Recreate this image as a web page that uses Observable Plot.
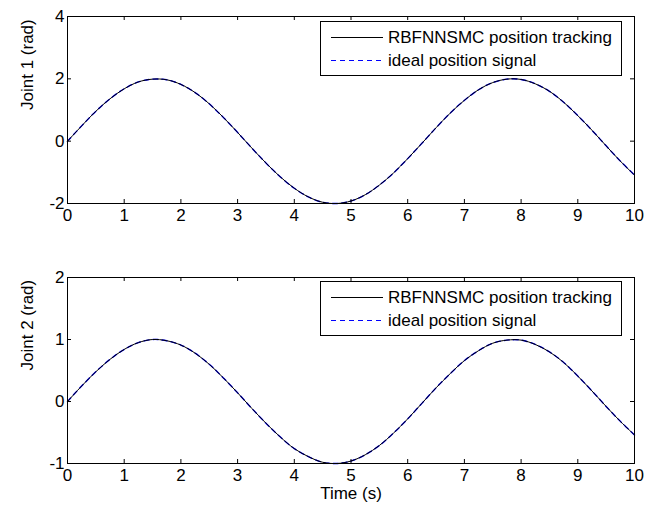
<!DOCTYPE html>
<html>
<head>
<meta charset="utf-8">
<script src="https://cdn.jsdelivr.net/npm/d3@7"></script>
<script src="https://cdn.jsdelivr.net/npm/@observablehq/plot@0.6"></script>
<style>
  body { margin: 0; background: #fff; }
  #wrap { position: relative; width: 660px; height: 511px; font-family: Arial, "Liberation Sans", Helvetica, sans-serif; }
  #wrap svg { display: block; }
  .legend { position: absolute; left: 320px; }
</style>
</head>
<body>
<div id="wrap"></div>
<script>
// Time samples (s)
const time = [0, 0.25, 0.5, 0.75, 1, 1.25, 1.5, 1.75, 2, 2.25, 2.5, 2.75, 3, 3.25, 3.5, 3.75, 4, 4.25, 4.5, 4.75,
  5, 5.25, 5.5, 5.75, 6, 6.25, 6.5, 6.75, 7, 7.25, 7.5, 7.75, 8, 8.25, 8.5, 8.75, 9, 9.25, 9.5, 9.75, 10];

// Joint 1 (rad)
const joint1Tracking = [0, 0.49, 0.96, 1.36, 1.68, 1.90, 1.99, 1.97, 1.82, 1.56, 1.20, 0.76, 0.28, -0.22, -0.70, -1.14, -1.51, -1.79, -1.96, -2.00,
  -1.92, -1.72, -1.41, -1.02, -0.56, -0.07, 0.43, 0.90, 1.31, 1.65, 1.88, 1.99, 1.98, 1.84, 1.60, 1.25, 0.82, 0.35, -0.15, -0.64, -1.09];
const joint1Ideal = [0, 0.49, 0.96, 1.36, 1.68, 1.90, 1.99, 1.97, 1.82, 1.56, 1.20, 0.76, 0.28, -0.22, -0.70, -1.14, -1.51, -1.79, -1.96, -2.00,
  -1.92, -1.72, -1.41, -1.02, -0.56, -0.07, 0.43, 0.90, 1.31, 1.65, 1.88, 1.99, 1.98, 1.84, 1.60, 1.25, 0.82, 0.35, -0.15, -0.64, -1.09];

// Joint 2 (rad)
const joint2Tracking = [0, 0.25, 0.48, 0.68, 0.84, 0.95, 1.00, 0.98, 0.91, 0.78, 0.60, 0.38, 0.14, -0.11, -0.35, -0.57, -0.76, -0.89, -0.98, -1.00,
  -0.96, -0.86, -0.71, -0.51, -0.28, -0.03, 0.22, 0.45, 0.66, 0.82, 0.94, 0.99, 0.99, 0.92, 0.80, 0.63, 0.41, 0.17, -0.08, -0.32, -0.54];
const joint2Ideal = [0, 0.25, 0.48, 0.68, 0.84, 0.95, 1.00, 0.98, 0.91, 0.78, 0.60, 0.38, 0.14, -0.11, -0.35, -0.57, -0.76, -0.89, -0.98, -1.00,
  -0.96, -0.86, -0.71, -0.51, -0.28, -0.03, 0.22, 0.45, 0.66, 0.82, 0.94, 0.99, 0.99, 0.92, 0.80, 0.63, 0.41, 0.17, -0.08, -0.32, -0.54];

// Tick labels
const xTicks = [0, 1, 2, 3, 4, 5, 6, 7, 8, 9, 10];
const y1Ticks = [-2, 0, 2, 4];
const y2Ticks = [-1, 0, 1, 2];

const legendLabels = ["RBFNNSMC position tracking", "ideal position signal"];
const FONT = 'Arial, "Liberation Sans", Helvetica, sans-serif';
const FS = 17;

function panel({track, ideal, yTicks, yLabel, xLabel, height, marginTop, marginBottom}) {
  const innerH = height - marginTop - marginBottom;
  const trackData = time.map((t, i) => ({t, v: track[i]}));
  const idealData = time.map((t, i) => ({t, v: ideal[i]}));
  const TL = 4;
  const fmt = d => String(d);
  const marks = [
    Plot.line(idealData, {x: "t", y: "v", stroke: "#0000ff", strokeWidth: 1.4, strokeDasharray: "5,4", curve: "catmull-rom"}),
    Plot.line(trackData, {x: "t", y: "v", stroke: "#000", strokeWidth: 1, curve: "catmull-rom"}),
    Plot.frame({stroke: "#000", strokeWidth: 1}),
    // inward ticks, bottom and top
    Plot.tickX(xTicks, {x: d => d, insetTop: innerH - TL, stroke: "#000"}),
    Plot.tickX(xTicks, {x: d => d, insetBottom: innerH - TL, stroke: "#000"}),
    // inward ticks, left and right
    Plot.tickY(yTicks, {y: d => d, insetRight: 660 - 67 - 26 - TL, stroke: "#000"}),
    Plot.tickY(yTicks, {y: d => d, insetLeft: 660 - 67 - 26 - TL, stroke: "#000"}),
    Plot.axisX(xTicks, {tickSize: 0, tickPadding: 5, fontSize: FS, fill: "#000", label: null, tickFormat: fmt}),
    Plot.axisY(yTicks, {tickSize: 0, tickPadding: 3, fontSize: FS, fill: "#000", label: null, tickFormat: fmt}),
    Plot.text([yLabel], {frameAnchor: "left", rotate: -90, dx: -40, fontSize: FS, fill: "#000"})
  ];
  if (xLabel) marks.push(Plot.text([xLabel], {frameAnchor: "bottom", dy: 35, fontSize: FS, fill: "#000"}));
  return Plot.plot({
    width: 660,
    height,
    marginLeft: 67,
    marginRight: 26,
    marginTop,
    marginBottom,
    style: {fontFamily: FONT, background: "#fff", color: "#000"},
    x: {domain: [0, 10]},
    y: {domain: [yTicks[0], yTicks[yTicks.length - 1]]},
    marks
  });
}

function legend(top) {
  const ns = "http://www.w3.org/2000/svg";
  const svg = document.createElementNS(ns, "svg");
  svg.setAttribute("class", "legend");
  svg.setAttribute("width", 303);
  svg.setAttribute("height", 56);
  svg.style.top = top + "px";
  svg.innerHTML = `
    <rect x="0.5" y="0.5" width="301" height="54" fill="#fff" stroke="#000" stroke-width="1"/>
    <line x1="11" x2="63" y1="16.5" y2="16.5" stroke="#000" stroke-width="1"/>
    <line x1="11" x2="63" y1="39.5" y2="39.5" stroke="#0000ff" stroke-width="1" stroke-dasharray="5,4"/>
    <text x="68" y="16.5" dy="0.35em" font-size="${FS}" font-family='${FONT}' fill="#000"></text>
    <text x="68" y="39.5" dy="0.35em" font-size="${FS}" font-family='${FONT}' fill="#000"></text>`;
  const texts = svg.querySelectorAll("text");
  texts[0].textContent = legendLabels[0];
  texts[1].textContent = legendLabels[1];
  return svg;
}

const wrap = document.getElementById("wrap");
wrap.appendChild(panel({track: joint1Tracking, ideal: joint1Ideal, yTicks: y1Ticks, yLabel: "Joint 1 (rad)",
  height: 240, marginTop: 16, marginBottom: 37}));
wrap.appendChild(panel({track: joint2Tracking, ideal: joint2Ideal, yTicks: y2Ticks, yLabel: "Joint 2 (rad)", xLabel: "Time (s)",
  height: 271, marginTop: 37, marginBottom: 48}));
wrap.appendChild(legend(21));
wrap.appendChild(legend(281));
</script>
</body>
</html>
